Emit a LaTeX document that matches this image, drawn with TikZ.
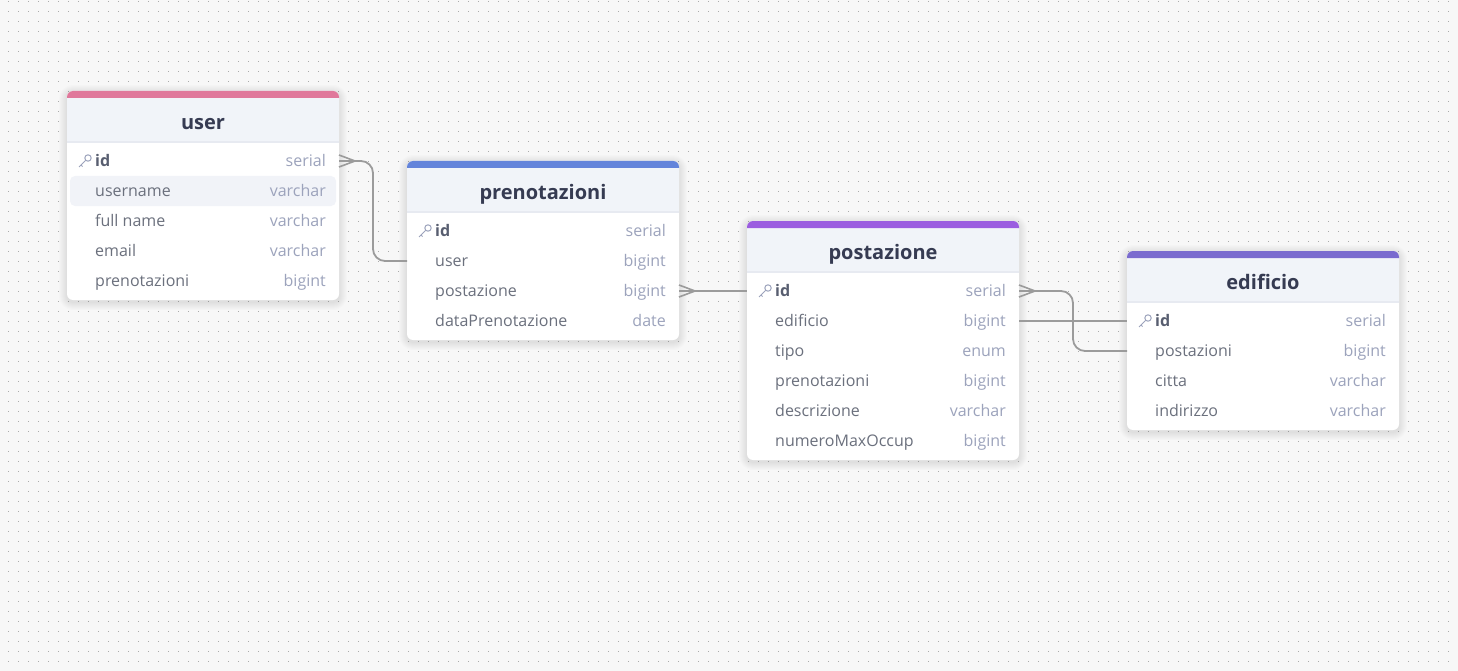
\documentclass[tikz,border=0pt]{standalone}
\usepackage{fontspec}
\setmainfont{Open Sans}
\usetikzlibrary{positioning,calc}
\definecolor{dbCanvas}{RGB}{247,247,247}
\definecolor{dbDot}{RGB}{170,170,170}
\definecolor{dbLink}{RGB}{155,155,155}
\definecolor{dbHead}{RGB}{241,244,249}
\definecolor{dbRule}{RGB}{231,234,241}
\definecolor{dbHover}{RGB}{241,243,248}
\definecolor{dbTitle}{RGB}{54,59,82}
\definecolor{dbName}{RGB}{107,112,125}
\definecolor{dbKey}{RGB}{88,94,112}
\definecolor{dbType}{RGB}{156,163,188}
\definecolor{dbPink}{RGB}{224,120,155}
\definecolor{dbBlue}{RGB}{99,132,219}
\definecolor{dbPurple}{RGB}{155,93,224}
\definecolor{dbViolet}{RGB}{122,107,207}

\begin{document}
\begin{tikzpicture}[
    x=1pt, y=-1pt,
    table card/.style={rectangle, rounded corners=6pt, fill=white, minimum width=272pt, anchor=north west, inner sep=0pt, outer sep=0pt},
    table title/.style={font=\fontsize{20}{22}\selectfont\bfseries, text=dbTitle, inner sep=0pt, text height=15pt, text depth=5pt},
    field row/.style={rectangle, minimum width=272pt, minimum height=30pt, inner sep=0pt, outer sep=0pt},
    hover row/.style={rectangle, rounded corners=5pt, fill=dbHover, minimum width=266pt, minimum height=30pt, inner sep=0pt},
    field name/.style={font=\fontsize{16}{18}\selectfont, text=dbName, inner sep=0pt, text height=13pt, text depth=2pt},
    key name/.style={font=\fontsize{16}{18}\selectfont\bfseries, text=dbKey, inner sep=0pt, text height=13pt, text depth=2pt},
    field type/.style={font=\fontsize{16}{18}\selectfont, text=dbType, inner sep=0pt, text height=13pt, text depth=2pt},
    link/.style={draw=dbLink, line width=1.8pt, rounded corners=12pt},
    crow/.style={draw=dbLink, line width=1.6pt},
    key icon/.pic={
      \draw[dbType, line width=1pt] (3,-3) circle (3.2pt);
      \draw[dbType, line width=1pt] (0.7,-0.7) -- (-6,6) (-4,4) -- (-2.5,5.5);
    }
]
  % canvas and dots
  \useasboundingbox (0,0) rectangle (1458,671);
  \fill[dbCanvas] (0,0) rectangle (1458,671);
  \foreach \dx in {8,18,...,1458}
    \foreach \dy in {1,11,...,671}
      \fill[dbDot] (\dx,\dy) rectangle +(1.2,1.2);

  % tables
  \foreach \tname/\tx/\ty/\th/\tcolor in {user/67/91/209/dbPink, prenotazioni/407/161/179/dbBlue, postazione/747/221/239/dbPurple, edificio/1127/251/179/dbViolet} {
    \foreach \s in {1,...,8}
      \fill[black, opacity=.011, rounded corners=6pt+\s pt] (\tx-\s,\ty-\s+2) rectangle (\tx+272+\s,\ty+\th+\s+2);
    \node[table card, minimum height=\th pt] (\tname) at (\tx,\ty) {};
    \fill[dbHead] ($(\tname.north west)+(0,6)$) rectangle ($(\tname.north east)+(0,50)$);
    \fill[dbRule] ($(\tname.north west)+(0,50)$) rectangle ($(\tname.north east)+(0,52)$);
    \fill[\tcolor] ($(\tname.north west)+(0,7)$) [rounded corners=6pt] -- (\tname.north west) -- (\tname.north east) [sharp corners] -- ($(\tname.north east)+(0,7)$) -- cycle;
    \node[table title] (\tname-title) [below=23pt of \tname.north] {\tname};
    \node[field row] (\tname-id) [below=55pt of \tname.north] {};
    \pic at ($(\tname-id.west)+(18,0)$) {key icon};
    \node[key name] (\tname-idname) [right=28pt of \tname-id.west] {id};
    \node[field type] (\tname-idtype) [left=13pt of \tname-id.east] {serial};
  }
  \node[hover row] (userhover) at (203,191) {};

  % fields
  \foreach \fid/\fname/\ftype [remember=\fid as \fprev (initially id)] in {username/username/varchar, fullname/full name/varchar, email/email/varchar, prenotazioni/prenotazioni/bigint} {
    \node[field row] (user-\fid) [below=0pt of user-\fprev] {};
    \node[field name] (user-\fid-name) [right=28pt of user-\fid.west] {\fname};
    \node[field type] (user-\fid-type) [left=13pt of user-\fid.east] {\ftype};
  }
  \foreach \fid/\fname/\ftype [remember=\fid as \fprev (initially id)] in {user/user/bigint, postazione/postazione/bigint, data/dataPrenotazione/date} {
    \node[field row] (prenotazioni-\fid) [below=0pt of prenotazioni-\fprev] {};
    \node[field name] (prenotazioni-\fid-name) [right=28pt of prenotazioni-\fid.west] {\fname};
    \node[field type] (prenotazioni-\fid-type) [left=13pt of prenotazioni-\fid.east] {\ftype};
  }
  \foreach \fid/\fname/\ftype [remember=\fid as \fprev (initially id)] in {edificio/edificio/bigint, tipo/tipo/enum, prenotazioni/prenotazioni/bigint, descrizione/descrizione/varchar, numero/numeroMaxOccup/bigint} {
    \node[field row] (postazione-\fid) [below=0pt of postazione-\fprev] {};
    \node[field name] (postazione-\fid-name) [right=28pt of postazione-\fid.west] {\fname};
    \node[field type] (postazione-\fid-type) [left=13pt of postazione-\fid.east] {\ftype};
  }
  \foreach \fid/\fname/\ftype [remember=\fid as \fprev (initially id)] in {postazioni/postazioni/bigint, citta/citta/varchar, indirizzo/indirizzo/varchar} {
    \node[field row] (edificio-\fid) [below=0pt of edificio-\fprev] {};
    \node[field name] (edificio-\fid-name) [right=28pt of edificio-\fid.west] {\fname};
    \node[field type] (edificio-\fid-type) [left=13pt of edificio-\fid.east] {\ftype};
  }

  % connectors
  \draw[link] (user-id.east) -- ++(34,0) |- (prenotazioni-user.west);
  \draw[link] (prenotazioni-postazione.east) -- (postazione-id.west);
  \draw[link] (postazione-id.east) -- ++(54,0) |- (edificio-postazioni.west);
  \draw[link] (postazione-edificio.east) -- (edificio-id.west);
  \foreach \fnode in {user-id, prenotazioni-postazione, postazione-id}
    \draw[crow] ($(\fnode.east)+(0,-6)$) -- ($(\fnode.east)+(16,0)$) -- ($(\fnode.east)+(0,6)$);
\end{tikzpicture}
\end{document}
